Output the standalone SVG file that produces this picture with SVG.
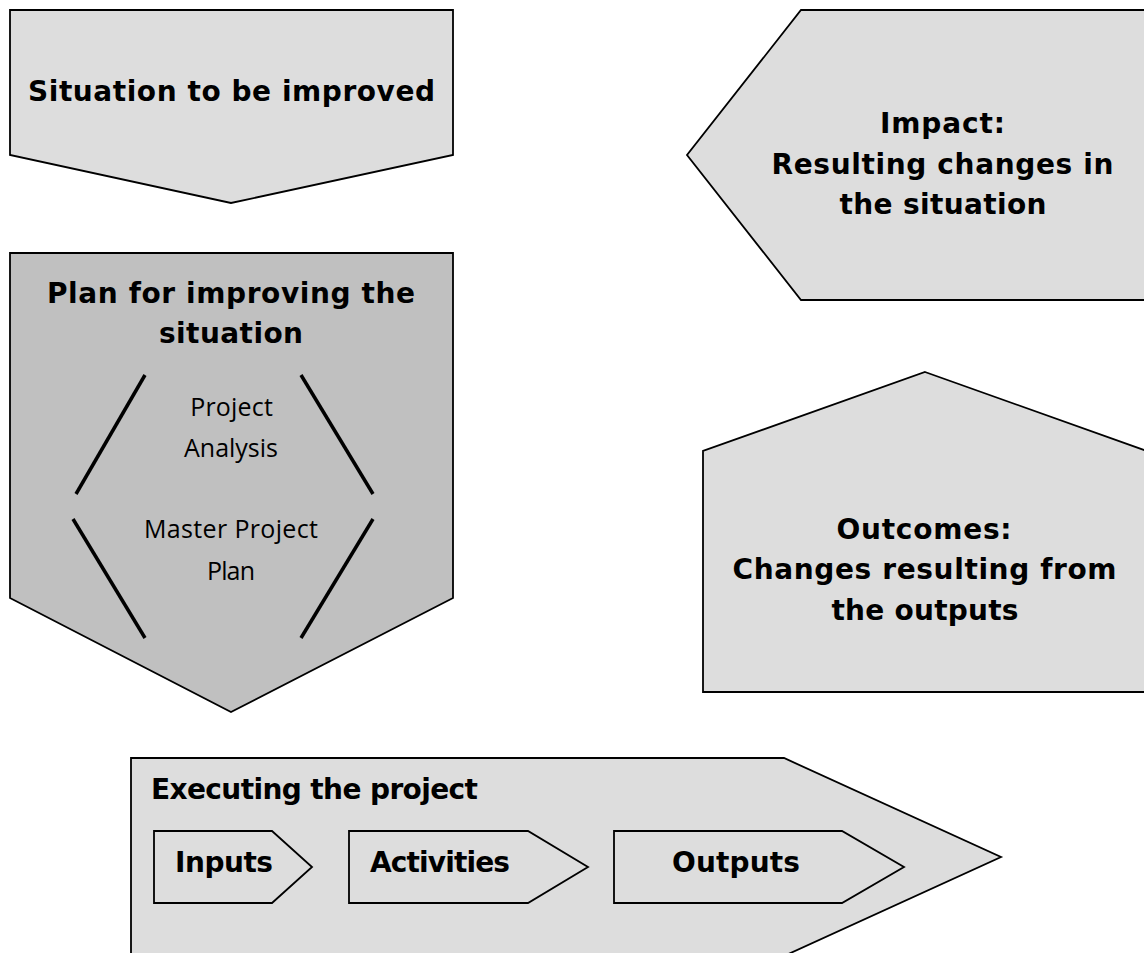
<svg xmlns="http://www.w3.org/2000/svg" width="1144" height="953" viewBox="0 0 1144 953">
<style>
.shape{fill:#dddddd;stroke:#000;stroke-width:1.8;stroke-linejoin:miter}
.dark{fill:#c0c0c0}
.b{font-family:"DejaVu Sans",Verdana,sans-serif;font-weight:bold;font-size:28px;fill:#000}
.r{font-family:"Open Sans","Noto Sans",sans-serif;font-size:25px;fill:#000}
.c{text-anchor:middle}
.div{stroke:#000;stroke-width:3.5;fill:none}
</style>
<rect width="1144" height="953" fill="#fff"/>
<g id="situation">
<polygon class="shape" points="10,10 453,10 453,155 231,203 10,155"/>
<text class="b c" x="231.5" y="101" textLength="407" lengthAdjust="spacing">Situation to be improved</text>
</g>
<g id="impact">
<polygon class="shape" points="801,10 1150,10 1150,300 801,300 687,155"/>
<text class="b c" x="942.5" y="133" textLength="125" lengthAdjust="spacing">Impact:</text>
<text class="b c" x="942.5" y="174" textLength="342" lengthAdjust="spacing">Resulting changes in</text>
<text class="b c" x="943" y="214" textLength="207" lengthAdjust="spacing">the situation</text>
</g>
<g id="plan">
<polygon class="shape dark" points="10,253 453,253 453,598 231,712 10,598"/>
<text class="b c" x="231" y="303" textLength="368" lengthAdjust="spacing">Plan for improving the</text>
<text class="b c" x="231" y="343" textLength="144" lengthAdjust="spacing">situation</text>
<text class="r c" x="231.5" y="416" textLength="82.7" lengthAdjust="spacing">Project</text>
<text class="r c" x="231" y="457" textLength="94" lengthAdjust="spacing">Analysis</text>
<text class="r c" x="231" y="538" textLength="174" lengthAdjust="spacing">Master Project</text>
<text class="r c" x="231" y="580" textLength="48" lengthAdjust="spacing">Plan</text>
<line class="div" x1="145" y1="375" x2="76" y2="494"/>
<line class="div" x1="301" y1="375" x2="373" y2="494"/>
<line class="div" x1="73" y1="519" x2="145" y2="638"/>
<line class="div" x1="373" y1="519" x2="301" y2="638"/>
</g>
<g id="outcomes">
<polygon class="shape" points="925,372 1147,451 1147,692 703,692 703,451"/>
<text class="b c" x="924" y="539" textLength="175" lengthAdjust="spacing">Outcomes:</text>
<text class="b c" x="924.5" y="579" textLength="384" lengthAdjust="spacing">Changes resulting from</text>
<text class="b c" x="925" y="620" textLength="187" lengthAdjust="spacing">the outputs</text>
</g>
<g id="executing">
<polygon class="shape" points="131,758 784,758 1001,857 784,956 131,956"/>
<text class="b" x="151" y="799" textLength="327" lengthAdjust="spacing">Executing the project</text>
</g>
<g id="inputs">
<polygon class="shape" points="154,831 272,831 312,867 272,903 154,903"/>
<text class="b" x="175" y="872" textLength="98" lengthAdjust="spacing">Inputs</text>
</g>
<g id="activities">
<polygon class="shape" points="349,831 528,831 588,867 528,903 349,903"/>
<text class="b" x="370" y="872" textLength="140" lengthAdjust="spacing">Activities</text>
</g>
<g id="outputs">
<polygon class="shape" points="614,831 842,831 904,867 842,903 614,903"/>
<text class="b" x="672" y="872" textLength="128" lengthAdjust="spacing">Outputs</text>
</g>
<g id="connectors"></g>
</svg>
